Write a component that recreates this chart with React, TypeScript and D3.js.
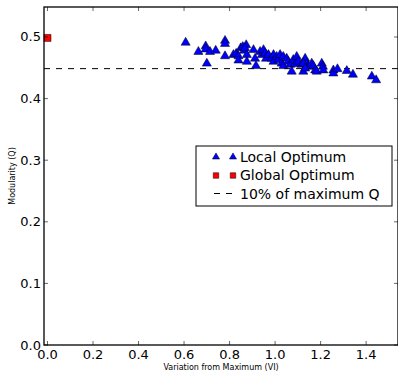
import React from "react";
import * as d3 from "d3";

// variation from maximum (VI) and modularity (Q) for each local optimum
const localVI = [
  0.607, 0.663, 0.695, 0.695, 0.7, 0.714, 0.739, 0.78, 0.78, 0.78, 0.817, 0.829, 0.839, 0.849,
  0.858, 0.864, 0.873, 0.839, 0.876, 0.868, 0.876, 0.905, 0.912, 0.916, 0.934, 0.942, 0.949,
  0.956, 0.96, 0.971, 0.985, 0.993, 0.993, 1.007, 1.015, 1.022, 1.029, 1.036, 1.036, 1.051,
  1.058, 1.066, 1.073, 1.08, 1.088, 1.095, 1.102, 1.117, 1.124, 1.132, 1.139, 1.146, 1.124,
  1.132, 1.161, 1.168, 1.176, 1.183, 1.205, 1.21, 1.212, 1.256, 1.256, 1.274, 1.315, 1.342,
  1.425, 1.444,
];
const localQ = [
  0.491, 0.476, 0.485, 0.48, 0.457, 0.476, 0.478, 0.494, 0.489, 0.469, 0.471, 0.473, 0.469, 0.482,
  0.484, 0.478, 0.487, 0.462, 0.46, 0.482, 0.471, 0.479, 0.465, 0.453, 0.476, 0.471, 0.479,
  0.474, 0.465, 0.471, 0.465, 0.471, 0.46, 0.468, 0.463, 0.471, 0.457, 0.468, 0.453, 0.465,
  0.46, 0.455, 0.444, 0.463, 0.456, 0.468, 0.46, 0.455, 0.444, 0.465, 0.457, 0.452, 0.457,
  0.449, 0.457, 0.453, 0.446, 0.444, 0.457, 0.452, 0.446, 0.446, 0.441, 0.448, 0.445, 0.439,
  0.436, 0.43,
];
const globalVI = [0.0];
const globalQ = [0.4985];
const thresholdQ = 0.9 * 0.4985;

const xTicks = [0, 0.2, 0.4, 0.6, 0.8, 1.0, 1.2, 1.4];
const yTicks = [0, 0.1, 0.2, 0.3, 0.4, 0.5];
const legendLabels = ["Local Optimum", "Global Optimum", "10% of maximum Q"];

const W = 398;
const H = 371;
const left = 44;
const right = 398;
const top = 7;
const bottom = 345;

const x = d3.scaleLinear().domain([-0.0154, 1.54]).range([left, right]);
const y = d3.scaleLinear().domain([0, 0.5487]).range([bottom, top]);

const tri = d3.symbol().type(d3.symbolTriangle).size(36)() as string;
const triSmall = d3.symbol().type(d3.symbolTriangle).size(22)() as string;
const sq = d3.symbol().type(d3.symbolSquare).size(49)() as string;
const sqSmall = d3.symbol().type(d3.symbolSquare).size(30)() as string;

const font = "DejaVu Sans, sans-serif";

export default function App() {
  const tickLen = 4;
  return (
    <div style={{ position: "fixed", left: 0, top: 0 }}>
      <svg width={W} height={H} style={{ display: "block", background: "#fff" }}>
        {/* dashed threshold */}
        <line
          x1={left}
          x2={right}
          y1={y(thresholdQ)}
          y2={y(thresholdQ)}
          stroke="#000"
          strokeWidth={1}
          strokeDasharray="6,6"
        />
        {localVI.map((v, i) => (
          <path
            key={i}
            d={tri}
            transform={`translate(${x(v)},${y(localQ[i])})`}
            fill="#0000ff"
            stroke="#000"
            strokeWidth={0.5}
          />
        ))}
        {globalVI.map((v, i) => (
          <path
            key={i}
            d={sq}
            transform={`translate(${x(v)},${y(globalQ[i])})`}
            fill="#ff0000"
            stroke="#000"
            strokeWidth={0.5}
          />
        ))}

        {/* ticks, inward on all sides */}
        {xTicks.map((t) => (
          <g key={t} stroke="#000" strokeWidth={0.6}>
            <line x1={x(t)} x2={x(t)} y1={bottom} y2={bottom - tickLen} />
            <line x1={x(t)} x2={x(t)} y1={top} y2={top + tickLen} />
          </g>
        ))}
        {yTicks.map((t) => (
          <g key={t} stroke="#000" strokeWidth={0.6}>
            <line x1={left} x2={left + tickLen} y1={y(t)} y2={y(t)} />
            <line x1={right} x2={right - tickLen} y1={y(t)} y2={y(t)} />
          </g>
        ))}

        {/* frame */}
        <rect
          x={left}
          y={top}
          width={right - left}
          height={bottom - top}
          fill="none"
          stroke="#000"
          strokeWidth={1.3}
        />

        {xTicks.map((t) => (
          <text
            key={t}
            x={x(t)}
            y={bottom + 14}
            textAnchor="middle"
            fontFamily={font}
            fontSize={13}
            fill="#000"
          >
            {t.toFixed(1)}
          </text>
        ))}
        {yTicks.map((t) => (
          <text
            key={t}
            x={left - 3}
            y={y(t) + 4.5}
            textAnchor="end"
            fontFamily={font}
            fontSize={13}
            fill="#000"
          >
            {t.toFixed(1)}
          </text>
        ))}

        <text
          x={(left + right) / 2}
          y={370}
          textAnchor="middle"
          fontFamily={font}
          fontSize={8}
          fill="#000"
        >
          Variation from Maximum (VI)
        </text>
        <text
          transform={`translate(15,${(top + bottom) / 2}) rotate(-90)`}
          textAnchor="middle"
          fontFamily={font}
          fontSize={8}
          fill="#000"
        >
          Modularity (Q)
        </text>

        {/* legend */}
        <g>
          <rect x={196} y={146} width={196} height={60} fill="#fff" stroke="#000" strokeWidth={1} />
          {[216, 233].map((lx) => (
            <path key={lx} d={triSmall} transform={`translate(${lx},157)`} fill="#0000ff" stroke="#000" strokeWidth={0.5} />
          ))}
          {[216, 233].map((lx) => (
            <path key={lx} d={sqSmall} transform={`translate(${lx},175.5)`} fill="#ff0000" stroke="#000" strokeWidth={0.5} />
          ))}
          <line x1={214} x2={236} y1={193.5} y2={193.5} stroke="#000" strokeWidth={1} strokeDasharray="6,6" />
          {legendLabels.map((l, i) => (
            <text key={l} x={240} y={161.5 + i * 18.5} fontFamily={font} fontSize={14} fill="#000">
              {l}
            </text>
          ))}
        </g>
      </svg>
    </div>
  );
}
